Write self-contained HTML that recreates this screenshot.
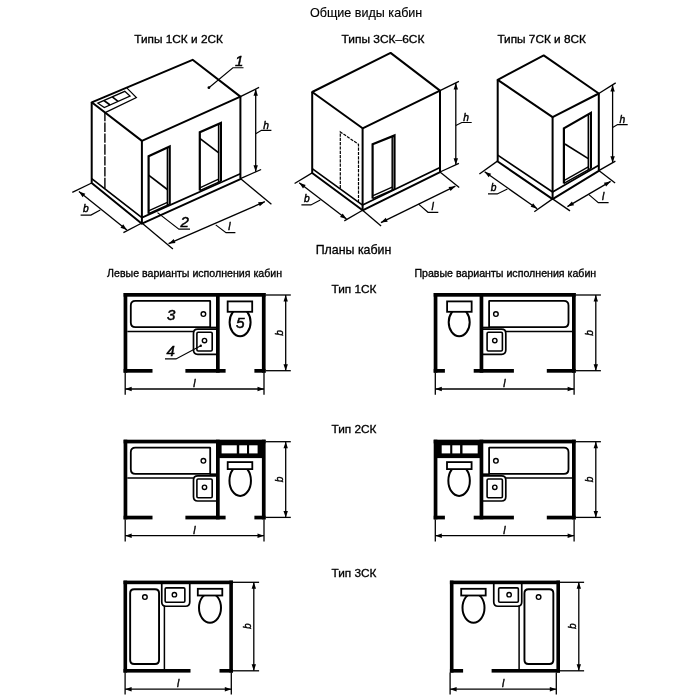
<!DOCTYPE html>
<html lang="ru">
<head>
<meta charset="utf-8">
<title>Общие виды и планы кабин</title>
<style>
html,body{margin:0;padding:0;background:#fff;}
body{width:700px;height:700px;overflow:hidden;}
svg{display:block;filter:blur(0.4px);font-family:"Liberation Sans",sans-serif;}
svg *{stroke:#000;fill:none;}
svg text{stroke:#000;stroke-width:0.32px;fill:#000;}
svg text.i{stroke-width:0.45px;}
svg .f{fill:#000;stroke:none;}
svg .w{fill:#fff;stroke:none;}
svg .wf{fill:#fff;stroke:#000;}
</style>
</head>
<body>
<svg width="700" height="700" viewBox="0 0 700 700">
<rect class="w" x="0" y="0" width="700" height="700"/>
<text x="310.00" y="16.60" font-size="12.6" text-anchor="start" textLength="112.3" lengthAdjust="spacingAndGlyphs" style="stroke-width:0.15px">Общие виды кабин</text>
<text x="134.30" y="42.70" font-size="11.5" text-anchor="start" textLength="88.6" lengthAdjust="spacingAndGlyphs" >Типы 1СК и 2СК</text>
<text x="341.60" y="42.70" font-size="11.5" text-anchor="start" textLength="82.8" lengthAdjust="spacingAndGlyphs" >Типы 3СК–6СК</text>
<text x="497.40" y="42.70" font-size="11.5" text-anchor="start" textLength="88.6" lengthAdjust="spacingAndGlyphs" >Типы 7СК и 8СК</text>
<text x="315.70" y="253.70" font-size="12.4" text-anchor="start" textLength="75.7" lengthAdjust="spacingAndGlyphs" style="stroke-width:0.3px">Планы кабин</text>
<text x="107.10" y="276.50" font-size="10.5" text-anchor="start" textLength="174.9" lengthAdjust="spacingAndGlyphs" >Левые варианты исполнения кабин</text>
<text x="414.40" y="276.50" font-size="10.5" text-anchor="start" textLength="181.8" lengthAdjust="spacingAndGlyphs" >Правые варианты исполнения кабин</text>
<text x="331.50" y="292.80" font-size="11.6" text-anchor="start" textLength="45.0" lengthAdjust="spacingAndGlyphs" >Тип 1СК</text>
<text x="331.50" y="433.10" font-size="11.6" text-anchor="start" textLength="45.0" lengthAdjust="spacingAndGlyphs" >Тип 2СК</text>
<text x="331.50" y="576.80" font-size="11.6" text-anchor="start" textLength="45.0" lengthAdjust="spacingAndGlyphs" >Тип 3СК</text>
<polygon points="91.70,102.30 192.60,59.80 240.40,96.60 141.90,140.90" stroke-width="2.0" stroke-linejoin="round"/>
<polyline points="91.70,102.30 91.70,183.00 141.90,223.70 240.40,179.20 240.40,96.60" stroke-width="2.0" stroke-linejoin="round"/>
<line x1="141.90" y1="140.90" x2="141.90" y2="223.70" stroke-width="2.0" />
<polyline points="91.70,178.60 141.90,217.60 240.40,173.80" stroke-width="1.7" stroke-linejoin="round"/>
<line x1="104.90" y1="112.20" x2="104.90" y2="188.60" stroke-width="1.4" stroke-dasharray="9.0 1.4 9.4 1.4 9.4 1.4 10.6 1.4 9.4 1.4 9.4 1.4 12 0"/>
<polyline points="105.60,112.40 136.40,97.60 127.00,88.20" stroke-width="1.2" />
<polygon points="97.90,103.20 124.80,91.30 130.00,96.10 104.30,107.60" stroke-width="1.3" />
<line x1="103.95" y1="100.52" x2="110.08" y2="105.01" stroke-width="1.6" />
<line x1="112.29" y1="96.83" x2="118.05" y2="101.45" stroke-width="1.6" />
<polyline points="148.60,213.70 148.60,156.30 169.70,146.50 169.70,204.30" stroke-width="2.2" stroke-linejoin="miter"/>
<line x1="167.40" y1="147.87" x2="167.40" y2="205.32" stroke-width="1.5" />
<line x1="148.60" y1="213.70" x2="169.70" y2="204.30" stroke-width="1.5" />
<line x1="149.10" y1="210.70" x2="167.40" y2="202.32" stroke-width="1.3" />
<line x1="148.60" y1="175.10" x2="167.70" y2="189.70" stroke-width="1.7" />
<polyline points="199.80,190.60 199.80,132.30 220.90,122.90 220.90,181.10" stroke-width="2.2" stroke-linejoin="miter"/>
<line x1="218.60" y1="124.22" x2="218.60" y2="182.14" stroke-width="1.5" />
<line x1="199.80" y1="190.60" x2="220.90" y2="181.10" stroke-width="1.5" />
<line x1="200.30" y1="187.60" x2="218.60" y2="179.14" stroke-width="1.3" />
<line x1="199.80" y1="138.30" x2="218.80" y2="152.90" stroke-width="1.7" />
<line x1="240.40" y1="96.60" x2="259.10" y2="87.40" stroke-width="1.3" />
<line x1="240.40" y1="178.60" x2="261.10" y2="169.50" stroke-width="1.3" />
<line x1="255.70" y1="89.20" x2="255.70" y2="171.80" stroke-width="1.3" />
<polygon class="f" points="255.70,89.20 257.90,95.70 253.50,95.70"/>
<polygon class="f" points="255.70,171.80 253.50,165.30 257.90,165.30"/>
<polyline points="255.70,133.70 261.50,130.30 271.40,130.30" stroke-width="1.15" />
<text x="263.30" y="128.50" font-size="10.2" text-anchor="start" font-style="italic" class="i" >h</text>
<circle class="f" cx="208.9" cy="87.7" r="1.4"/>
<polyline points="208.90,87.70 232.90,67.70 243.50,67.70" stroke-width="1.15" />
<text x="235.00" y="65.80" font-size="15" text-anchor="start" font-style="italic" class="i" style="stroke-width:0.5px">1</text>
<polyline points="157.50,212.60 178.90,229.10 190.00,229.10" stroke-width="1.15" />
<text x="180.60" y="227.40" font-size="15" text-anchor="start" font-style="italic" class="i" style="stroke-width:0.5px">2</text>
<line x1="141.90" y1="223.00" x2="172.90" y2="248.90" stroke-width="1.3" />
<line x1="240.40" y1="178.60" x2="271.40" y2="204.30" stroke-width="1.3" />
<line x1="168.60" y1="243.70" x2="264.90" y2="201.70" stroke-width="1.3" />
<polygon class="f" points="168.60,243.70 173.68,239.08 175.44,243.12"/>
<polygon class="f" points="264.90,201.70 259.82,206.32 258.06,202.28"/>
<polyline points="215.70,224.90 226.00,232.60 235.40,232.60" stroke-width="1.15" />
<text x="228.20" y="230.00" font-size="10.2" text-anchor="start" font-style="italic" class="i" >l</text>
<line x1="91.70" y1="183.00" x2="72.30" y2="192.30" stroke-width="1.3" />
<line x1="141.90" y1="223.00" x2="123.40" y2="232.60" stroke-width="1.3" />
<line x1="78.90" y1="191.40" x2="126.90" y2="230.00" stroke-width="1.3" />
<polygon class="f" points="78.90,191.40 85.34,193.76 82.59,197.19"/>
<polygon class="f" points="126.90,230.00 120.46,227.64 123.21,224.21"/>
<polyline points="100.30,209.90 90.90,215.10 80.60,215.10" stroke-width="1.15" />
<text x="83.10" y="212.10" font-size="10.2" text-anchor="start" font-style="italic" class="i" >b</text>
<polygon points="312.20,92.00 390.60,52.90 440.00,90.60 362.60,128.30" stroke-width="2.0" stroke-linejoin="round"/>
<polyline points="312.20,92.00 312.20,173.00 362.60,210.30 440.00,172.20 440.00,90.60" stroke-width="2.0" stroke-linejoin="round"/>
<line x1="362.60" y1="128.30" x2="362.60" y2="210.30" stroke-width="2.0" />
<polyline points="312.20,168.60 362.60,205.10 440.00,167.40" stroke-width="1.7" stroke-linejoin="round"/>
<polyline points="340.30,188.30 340.30,131.90 358.50,144.30 358.50,202.00" stroke-width="1.2" stroke-dasharray="3.2 1.1"/>
<polyline points="372.60,198.60 372.60,144.30 394.50,135.40 394.50,189.10" stroke-width="2.2" stroke-linejoin="miter"/>
<line x1="392.20" y1="136.63" x2="392.20" y2="190.10" stroke-width="1.5" />
<line x1="372.60" y1="198.60" x2="394.50" y2="189.10" stroke-width="1.5" />
<line x1="373.10" y1="195.60" x2="392.20" y2="187.10" stroke-width="1.3" />
<line x1="440.00" y1="90.60" x2="458.90" y2="81.40" stroke-width="1.3" />
<line x1="440.00" y1="172.00" x2="458.90" y2="163.40" stroke-width="1.3" />
<line x1="455.80" y1="83.00" x2="455.80" y2="164.80" stroke-width="1.3" />
<polygon class="f" points="455.80,83.00 458.00,89.50 453.60,89.50"/>
<polygon class="f" points="455.80,164.80 453.60,158.30 458.00,158.30"/>
<polyline points="455.80,125.40 461.80,122.50 471.70,122.50" stroke-width="1.15" />
<text x="463.30" y="121.00" font-size="10.2" text-anchor="start" font-style="italic" class="i" >h</text>
<line x1="362.60" y1="210.20" x2="381.10" y2="226.00" stroke-width="1.3" />
<line x1="440.00" y1="172.00" x2="459.20" y2="187.40" stroke-width="1.3" />
<line x1="380.90" y1="222.60" x2="455.40" y2="186.20" stroke-width="1.3" />
<polygon class="f" points="380.90,222.60 385.77,217.77 387.71,221.72"/>
<polygon class="f" points="455.40,186.20 450.53,191.03 448.59,187.08"/>
<polyline points="418.60,204.10 428.00,212.30 438.30,212.30" stroke-width="1.15" />
<text x="431.60" y="210.00" font-size="10.2" text-anchor="start" font-style="italic" class="i" >l</text>
<line x1="312.20" y1="172.90" x2="294.60" y2="183.50" stroke-width="1.3" />
<line x1="362.60" y1="210.20" x2="344.30" y2="220.90" stroke-width="1.3" />
<line x1="299.20" y1="182.80" x2="346.50" y2="219.10" stroke-width="1.3" />
<polygon class="f" points="299.20,182.80 305.70,185.01 303.02,188.50"/>
<polygon class="f" points="346.50,219.10 340.00,216.89 342.68,213.40"/>
<polyline points="320.30,199.90 310.90,204.90 301.40,204.90" stroke-width="1.15" />
<text x="303.90" y="202.30" font-size="10.2" text-anchor="start" font-style="italic" class="i" >b</text>
<polygon points="497.70,79.80 543.70,55.40 598.80,93.50 552.60,117.10" stroke-width="2.0" stroke-linejoin="round"/>
<polyline points="497.70,79.80 497.70,161.50 552.60,199.10 598.80,170.80 598.80,93.50" stroke-width="2.0" stroke-linejoin="round"/>
<line x1="552.60" y1="117.10" x2="552.60" y2="199.10" stroke-width="2.0" />
<polyline points="497.70,155.10 552.60,192.00 598.80,165.30" stroke-width="1.7" stroke-linejoin="round"/>
<polyline points="563.90,183.40 563.90,128.30 590.90,112.90 590.90,168.40" stroke-width="2.2" stroke-linejoin="miter"/>
<line x1="588.30" y1="114.68" x2="588.30" y2="169.84" stroke-width="1.5" />
<line x1="563.90" y1="183.40" x2="590.90" y2="168.40" stroke-width="1.5" />
<line x1="564.40" y1="180.40" x2="588.30" y2="166.84" stroke-width="1.3" />
<line x1="564.90" y1="144.00" x2="588.30" y2="158.60" stroke-width="1.7" />
<line x1="598.80" y1="93.50" x2="615.70" y2="82.90" stroke-width="1.3" />
<line x1="598.80" y1="170.60" x2="615.40" y2="161.10" stroke-width="1.3" />
<line x1="612.60" y1="84.90" x2="612.60" y2="162.70" stroke-width="1.3" />
<polygon class="f" points="612.60,84.90 614.80,91.40 610.40,91.40"/>
<polygon class="f" points="612.60,162.70 610.40,156.20 614.80,156.20"/>
<polyline points="612.60,127.40 617.60,124.60 627.70,124.60" stroke-width="1.15" />
<text x="619.40" y="122.60" font-size="10.2" text-anchor="start" font-style="italic" class="i" >h</text>
<line x1="552.60" y1="198.90" x2="570.00" y2="210.90" stroke-width="1.3" />
<line x1="598.80" y1="170.60" x2="615.10" y2="183.10" stroke-width="1.3" />
<line x1="567.40" y1="206.60" x2="610.60" y2="181.40" stroke-width="1.3" />
<polygon class="f" points="567.40,206.60 571.91,201.42 574.12,205.23"/>
<polygon class="f" points="610.60,181.40 606.09,186.58 603.88,182.77"/>
<polyline points="588.90,194.60 598.30,202.60 608.60,202.60" stroke-width="1.15" />
<text x="601.90" y="200.30" font-size="10.2" text-anchor="start" font-style="italic" class="i" >l</text>
<line x1="497.40" y1="161.10" x2="479.40" y2="174.00" stroke-width="1.3" />
<line x1="552.60" y1="198.90" x2="534.30" y2="211.70" stroke-width="1.3" />
<line x1="484.60" y1="171.80" x2="537.20" y2="208.80" stroke-width="1.3" />
<polygon class="f" points="484.60,171.80 491.18,173.74 488.65,177.34"/>
<polygon class="f" points="537.20,208.80 530.62,206.86 533.15,203.26"/>
<polyline points="507.40,188.90 497.20,193.90 488.00,193.90" stroke-width="1.15" />
<text x="490.70" y="190.60" font-size="10.2" text-anchor="start" font-style="italic" class="i" >b</text>
<path d="M135.40,300.90 L209.80,300.90 Q210.20,300.90 210.20,301.30 L210.20,326.80 Q210.20,327.20 209.80,327.20 L135.40,327.20 Q130.80,327.20 130.80,322.60 L130.80,305.50 Q130.80,300.90 135.40,300.90 Z" stroke-width="1.8"/>
<line x1="127.30" y1="331.40" x2="193.60" y2="331.40" stroke-width="1.5" />
<circle cx="203.40" cy="314.10" r="2.3" stroke-width="1.4"/>
<line x1="209.60" y1="327.50" x2="216.60" y2="327.50" stroke-width="1.7" />
<path d="M197.70,329.20 L217.80,329.20 Q217.90,329.20 217.90,329.30 L217.90,354.20 Q217.90,354.30 217.80,354.30 L197.70,354.30 Q193.50,354.30 193.50,350.10 L193.50,333.40 Q193.50,329.20 197.70,329.20 Z" stroke-width="1.7"/>
<path d="M198.10,332.30 L211.00,332.30 Q212.20,332.30 212.20,333.50 L212.20,349.80 Q212.20,351.00 211.00,351.00 L198.10,351.00 Q196.90,351.00 196.90,349.80 L196.90,333.50 Q196.90,332.30 198.10,332.30 Z" stroke-width="1.6"/>
<circle cx="204.50" cy="340.60" r="2.2" stroke-width="1.4"/>
<rect class="f" x="123.60" y="293.00" width="142.00" height="3.70"/>
<rect class="f" x="123.60" y="293.00" width="3.70" height="79.70"/>
<rect class="f" x="261.90" y="293.00" width="3.70" height="79.70"/>
<rect class="f" x="216.00" y="293.00" width="3.70" height="79.70"/>
<rect class="f" x="123.60" y="369.00" width="28.90" height="3.70"/>
<rect class="f" x="185.40" y="369.00" width="40.20" height="3.70"/>
<rect class="f" x="254.40" y="369.00" width="11.20" height="3.70"/>
<ellipse class="wf" cx="240.10" cy="322.20" rx="10.5" ry="14.0" stroke-width="2.0"/>
<rect class="wf" x="227.65" y="301.40" width="24.55" height="10.4" stroke-width="1.8"/>
<line x1="265.60" y1="295.00" x2="290.80" y2="295.00" stroke-width="1.3" />
<line x1="265.60" y1="370.70" x2="290.80" y2="370.70" stroke-width="1.3" />
<line x1="285.70" y1="295.00" x2="285.70" y2="370.70" stroke-width="1.3" />
<polygon class="f" points="285.70,295.00 287.90,301.50 283.50,301.50"/>
<polygon class="f" points="285.70,370.70 283.50,364.20 287.90,364.20"/>
<text transform="translate(283.00,332.80) rotate(-90)" text-anchor="middle" font-size="10.2" font-style="italic" class="i">b</text>
<line x1="125.20" y1="372.70" x2="125.20" y2="394.70" stroke-width="1.3" />
<line x1="264.00" y1="372.70" x2="264.00" y2="394.70" stroke-width="1.3" />
<line x1="125.20" y1="389.00" x2="264.00" y2="389.00" stroke-width="1.3" />
<polygon class="f" points="125.20,389.00 131.70,386.80 131.70,391.20"/>
<polygon class="f" points="264.00,389.00 257.50,391.20 257.50,386.80"/>
<text x="194.30" y="387.00" font-size="10.2" text-anchor="middle" font-style="italic" class="i" >l</text>
<text x="167.00" y="319.50" font-size="15" text-anchor="start" font-style="italic" class="i" style="stroke-width:0.5px">3</text>
<text x="166.40" y="356.40" font-size="15" text-anchor="start" font-style="italic" class="i" style="stroke-width:0.5px">4</text>
<polyline points="165.00,358.90 176.00,358.90 200.80,345.80" stroke-width="1.15" />
<circle class="f" cx="200.8" cy="345.8" r="1.2"/>
<text x="236.10" y="328.00" font-size="15.5" text-anchor="start" font-style="italic" class="i" style="stroke-width:0.5px">5</text>
<path d="M563.90,300.90 L489.50,300.90 Q489.10,300.90 489.10,301.30 L489.10,326.80 Q489.10,327.20 489.50,327.20 L563.90,327.20 Q568.50,327.20 568.50,322.60 L568.50,305.50 Q568.50,300.90 563.90,300.90 Z" stroke-width="1.8"/>
<line x1="572.00" y1="331.40" x2="505.70" y2="331.40" stroke-width="1.5" />
<circle cx="495.90" cy="314.10" r="2.3" stroke-width="1.4"/>
<line x1="489.70" y1="327.50" x2="482.70" y2="327.50" stroke-width="1.7" />
<path d="M501.60,329.20 L481.50,329.20 Q481.40,329.20 481.40,329.30 L481.40,354.20 Q481.40,354.30 481.50,354.30 L501.60,354.30 Q505.80,354.30 505.80,350.10 L505.80,333.40 Q505.80,329.20 501.60,329.20 Z" stroke-width="1.7"/>
<path d="M501.20,332.30 L488.30,332.30 Q487.10,332.30 487.10,333.50 L487.10,349.80 Q487.10,351.00 488.30,351.00 L501.20,351.00 Q502.40,351.00 502.40,349.80 L502.40,333.50 Q502.40,332.30 501.20,332.30 Z" stroke-width="1.6"/>
<circle cx="494.80" cy="340.60" r="2.2" stroke-width="1.4"/>
<rect class="f" x="433.70" y="293.00" width="142.00" height="3.70"/>
<rect class="f" x="572.00" y="293.00" width="3.70" height="79.70"/>
<rect class="f" x="433.70" y="293.00" width="3.70" height="79.70"/>
<rect class="f" x="479.60" y="293.00" width="3.70" height="79.70"/>
<rect class="f" x="546.80" y="369.00" width="28.90" height="3.70"/>
<rect class="f" x="473.70" y="369.00" width="40.20" height="3.70"/>
<rect class="f" x="433.70" y="369.00" width="11.20" height="3.70"/>
<ellipse class="wf" cx="459.20" cy="322.20" rx="10.5" ry="14.0" stroke-width="2.0"/>
<rect class="wf" x="447.10" y="301.40" width="24.55" height="10.4" stroke-width="1.8"/>
<line x1="575.70" y1="295.00" x2="600.90" y2="295.00" stroke-width="1.3" />
<line x1="575.70" y1="370.70" x2="600.90" y2="370.70" stroke-width="1.3" />
<line x1="595.80" y1="295.00" x2="595.80" y2="370.70" stroke-width="1.3" />
<polygon class="f" points="595.80,295.00 598.00,301.50 593.60,301.50"/>
<polygon class="f" points="595.80,370.70 593.60,364.20 598.00,364.20"/>
<text transform="translate(593.10,332.80) rotate(-90)" text-anchor="middle" font-size="10.2" font-style="italic" class="i">b</text>
<line x1="435.30" y1="372.70" x2="435.30" y2="394.70" stroke-width="1.3" />
<line x1="574.10" y1="372.70" x2="574.10" y2="394.70" stroke-width="1.3" />
<line x1="435.30" y1="389.00" x2="574.10" y2="389.00" stroke-width="1.3" />
<polygon class="f" points="435.30,389.00 441.80,386.80 441.80,391.20"/>
<polygon class="f" points="574.10,389.00 567.60,391.20 567.60,386.80"/>
<text x="504.40" y="387.00" font-size="10.2" text-anchor="middle" font-style="italic" class="i" >l</text>
<path d="M135.40,447.60 L209.80,447.60 Q210.20,447.60 210.20,448.00 L210.20,473.50 Q210.20,473.90 209.80,473.90 L135.40,473.90 Q130.80,473.90 130.80,469.30 L130.80,452.20 Q130.80,447.60 135.40,447.60 Z" stroke-width="1.8"/>
<line x1="127.30" y1="478.10" x2="193.60" y2="478.10" stroke-width="1.5" />
<circle cx="203.40" cy="460.80" r="2.3" stroke-width="1.4"/>
<line x1="209.60" y1="474.20" x2="216.60" y2="474.20" stroke-width="1.7" />
<path d="M197.70,475.90 L217.80,475.90 Q217.90,475.90 217.90,476.00 L217.90,500.90 Q217.90,501.00 217.80,501.00 L197.70,501.00 Q193.50,501.00 193.50,496.80 L193.50,480.10 Q193.50,475.90 197.70,475.90 Z" stroke-width="1.7"/>
<path d="M198.10,479.00 L211.00,479.00 Q212.20,479.00 212.20,480.20 L212.20,496.50 Q212.20,497.70 211.00,497.70 L198.10,497.70 Q196.90,497.70 196.90,496.50 L196.90,480.20 Q196.90,479.00 198.10,479.00 Z" stroke-width="1.6"/>
<circle cx="204.50" cy="487.30" r="2.2" stroke-width="1.4"/>
<rect class="f" x="123.60" y="439.70" width="142.00" height="3.70"/>
<rect class="f" x="123.60" y="439.70" width="3.70" height="79.70"/>
<rect class="f" x="261.90" y="439.70" width="3.70" height="79.70"/>
<rect class="f" x="216.00" y="439.70" width="3.70" height="79.70"/>
<rect class="f" x="123.60" y="515.70" width="28.90" height="3.70"/>
<rect class="f" x="185.40" y="515.70" width="40.20" height="3.70"/>
<rect class="f" x="254.40" y="515.70" width="11.20" height="3.70"/>
<rect class="f" x="217.00" y="440.70" width="47.60" height="17.40"/>
<rect class="w" x="221.60" y="445.30" width="15.20" height="8.10"/>
<rect class="w" x="239.20" y="445.30" width="7.80" height="8.10"/>
<rect class="w" x="249.10" y="445.30" width="8.50" height="8.10"/>
<ellipse class="wf" cx="240.20" cy="480.70" rx="10.75" ry="15.2" stroke-width="2.0"/>
<rect class="wf" x="227.70" y="462.10" width="24.60" height="7.0" stroke-width="1.8"/>
<line x1="265.60" y1="441.70" x2="290.80" y2="441.70" stroke-width="1.3" />
<line x1="265.60" y1="517.40" x2="290.80" y2="517.40" stroke-width="1.3" />
<line x1="285.70" y1="441.70" x2="285.70" y2="517.40" stroke-width="1.3" />
<polygon class="f" points="285.70,441.70 287.90,448.20 283.50,448.20"/>
<polygon class="f" points="285.70,517.40 283.50,510.90 287.90,510.90"/>
<text transform="translate(283.00,479.50) rotate(-90)" text-anchor="middle" font-size="10.2" font-style="italic" class="i">b</text>
<line x1="125.20" y1="519.40" x2="125.20" y2="541.40" stroke-width="1.3" />
<line x1="264.00" y1="519.40" x2="264.00" y2="541.40" stroke-width="1.3" />
<line x1="125.20" y1="535.70" x2="264.00" y2="535.70" stroke-width="1.3" />
<polygon class="f" points="125.20,535.70 131.70,533.50 131.70,537.90"/>
<polygon class="f" points="264.00,535.70 257.50,537.90 257.50,533.50"/>
<text x="194.30" y="533.70" font-size="10.2" text-anchor="middle" font-style="italic" class="i" >l</text>
<path d="M563.90,447.60 L489.50,447.60 Q489.10,447.60 489.10,448.00 L489.10,473.50 Q489.10,473.90 489.50,473.90 L563.90,473.90 Q568.50,473.90 568.50,469.30 L568.50,452.20 Q568.50,447.60 563.90,447.60 Z" stroke-width="1.8"/>
<line x1="572.00" y1="478.10" x2="505.70" y2="478.10" stroke-width="1.5" />
<circle cx="495.90" cy="460.80" r="2.3" stroke-width="1.4"/>
<line x1="489.70" y1="474.20" x2="482.70" y2="474.20" stroke-width="1.7" />
<path d="M501.60,475.90 L481.50,475.90 Q481.40,475.90 481.40,476.00 L481.40,500.90 Q481.40,501.00 481.50,501.00 L501.60,501.00 Q505.80,501.00 505.80,496.80 L505.80,480.10 Q505.80,475.90 501.60,475.90 Z" stroke-width="1.7"/>
<path d="M501.20,479.00 L488.30,479.00 Q487.10,479.00 487.10,480.20 L487.10,496.50 Q487.10,497.70 488.30,497.70 L501.20,497.70 Q502.40,497.70 502.40,496.50 L502.40,480.20 Q502.40,479.00 501.20,479.00 Z" stroke-width="1.6"/>
<circle cx="494.80" cy="487.30" r="2.2" stroke-width="1.4"/>
<rect class="f" x="433.70" y="439.70" width="142.00" height="3.70"/>
<rect class="f" x="572.00" y="439.70" width="3.70" height="79.70"/>
<rect class="f" x="433.70" y="439.70" width="3.70" height="79.70"/>
<rect class="f" x="479.60" y="439.70" width="3.70" height="79.70"/>
<rect class="f" x="546.80" y="515.70" width="28.90" height="3.70"/>
<rect class="f" x="473.70" y="515.70" width="40.20" height="3.70"/>
<rect class="f" x="433.70" y="515.70" width="11.20" height="3.70"/>
<rect class="f" x="434.70" y="440.70" width="47.60" height="17.40"/>
<rect class="w" x="462.50" y="445.30" width="15.20" height="8.10"/>
<rect class="w" x="452.30" y="445.30" width="7.80" height="8.10"/>
<rect class="w" x="441.70" y="445.30" width="8.50" height="8.10"/>
<ellipse class="wf" cx="459.10" cy="480.70" rx="10.75" ry="15.2" stroke-width="2.0"/>
<rect class="wf" x="447.00" y="462.10" width="24.60" height="7.0" stroke-width="1.8"/>
<line x1="575.70" y1="441.70" x2="600.90" y2="441.70" stroke-width="1.3" />
<line x1="575.70" y1="517.40" x2="600.90" y2="517.40" stroke-width="1.3" />
<line x1="595.80" y1="441.70" x2="595.80" y2="517.40" stroke-width="1.3" />
<polygon class="f" points="595.80,441.70 598.00,448.20 593.60,448.20"/>
<polygon class="f" points="595.80,517.40 593.60,510.90 598.00,510.90"/>
<text transform="translate(593.10,479.50) rotate(-90)" text-anchor="middle" font-size="10.2" font-style="italic" class="i">b</text>
<line x1="435.30" y1="519.40" x2="435.30" y2="541.40" stroke-width="1.3" />
<line x1="574.10" y1="519.40" x2="574.10" y2="541.40" stroke-width="1.3" />
<line x1="435.30" y1="535.70" x2="574.10" y2="535.70" stroke-width="1.3" />
<polygon class="f" points="435.30,535.70 441.80,533.50 441.80,537.90"/>
<polygon class="f" points="574.10,535.70 567.60,537.90 567.60,533.50"/>
<text x="504.40" y="533.70" font-size="10.2" text-anchor="middle" font-style="italic" class="i" >l</text>
<path d="M134.15,589.25 L155.05,589.25 Q159.05,589.25 159.05,593.25 L159.05,660.05 Q159.05,664.05 155.05,664.05 L134.15,664.05 Q130.15,664.05 130.15,660.05 L130.15,593.25 Q130.15,589.25 134.15,589.25 Z" stroke-width="1.9"/>
<line x1="164.40" y1="605.60" x2="164.40" y2="669.00" stroke-width="1.5" />
<circle cx="144.90" cy="597.10" r="2.3" stroke-width="1.4"/>
<path d="M161.75,583.20 L161.75,602.05 Q161.75,606.25 165.95,606.25 L185.55,606.25 Q189.75,606.25 189.75,602.05 L189.75,583.20" stroke-width="1.7"/>
<path d="M166.35,587.85 L183.65,587.85 Q184.85,587.85 184.85,589.05 L184.85,601.05 Q184.85,602.25 183.65,602.25 L166.35,602.25 Q165.15,602.25 165.15,601.05 L165.15,589.05 Q165.15,587.85 166.35,587.85 Z" stroke-width="1.6"/>
<circle cx="174.40" cy="594.70" r="2.2" stroke-width="1.4"/>
<rect class="f" x="123.50" y="580.60" width="109.40" height="3.60"/>
<rect class="f" x="123.50" y="580.60" width="3.60" height="92.00"/>
<rect class="f" x="229.30" y="580.60" width="3.60" height="92.00"/>
<rect class="f" x="123.50" y="669.00" width="67.00" height="3.60"/>
<rect class="f" x="219.50" y="669.00" width="13.40" height="3.60"/>
<ellipse class="wf" cx="210.00" cy="607.80" rx="11.0" ry="14.9" stroke-width="2.0"/>
<rect class="wf" x="197.80" y="588.80" width="24.50" height="6.7" stroke-width="1.8"/>
<line x1="232.90" y1="582.30" x2="259.10" y2="582.30" stroke-width="1.3" />
<line x1="232.90" y1="670.80" x2="259.10" y2="670.80" stroke-width="1.3" />
<line x1="253.80" y1="582.30" x2="253.80" y2="670.80" stroke-width="1.3" />
<polygon class="f" points="253.80,582.30 256.00,588.80 251.60,588.80"/>
<polygon class="f" points="253.80,670.80 251.60,664.30 256.00,664.30"/>
<text transform="translate(250.90,626.20) rotate(-90)" text-anchor="middle" font-size="10.2" font-style="italic" class="i">b</text>
<line x1="125.10" y1="672.60" x2="125.10" y2="694.60" stroke-width="1.3" />
<line x1="231.30" y1="672.60" x2="231.30" y2="694.60" stroke-width="1.3" />
<line x1="125.10" y1="689.20" x2="231.30" y2="689.20" stroke-width="1.3" />
<polygon class="f" points="125.10,689.20 131.60,687.00 131.60,691.40"/>
<polygon class="f" points="231.30,689.20 224.80,691.40 224.80,687.00"/>
<text x="178.20" y="687.20" font-size="10.2" text-anchor="middle" font-style="italic" class="i" >l</text>
<path d="M549.35,589.25 L528.45,589.25 Q524.45,589.25 524.45,593.25 L524.45,660.05 Q524.45,664.05 528.45,664.05 L549.35,664.05 Q553.35,664.05 553.35,660.05 L553.35,593.25 Q553.35,589.25 549.35,589.25 Z" stroke-width="1.9"/>
<line x1="519.10" y1="605.60" x2="519.10" y2="669.00" stroke-width="1.5" />
<circle cx="538.60" cy="597.10" r="2.3" stroke-width="1.4"/>
<path d="M521.75,583.20 L521.75,602.05 Q521.75,606.25 517.55,606.25 L497.95,606.25 Q493.75,606.25 493.75,602.05 L493.75,583.20" stroke-width="1.7"/>
<path d="M517.15,587.85 L499.85,587.85 Q498.65,587.85 498.65,589.05 L498.65,601.05 Q498.65,602.25 499.85,602.25 L517.15,602.25 Q518.35,602.25 518.35,601.05 L518.35,589.05 Q518.35,587.85 517.15,587.85 Z" stroke-width="1.6"/>
<circle cx="509.10" cy="594.70" r="2.2" stroke-width="1.4"/>
<rect class="f" x="449.90" y="580.60" width="110.10" height="3.60"/>
<rect class="f" x="556.40" y="580.60" width="3.60" height="92.00"/>
<rect class="f" x="449.90" y="580.60" width="3.60" height="92.00"/>
<rect class="f" x="491.60" y="669.00" width="68.40" height="3.60"/>
<rect class="f" x="449.90" y="669.00" width="13.20" height="3.60"/>
<ellipse class="wf" cx="473.50" cy="607.80" rx="11.0" ry="14.9" stroke-width="2.0"/>
<rect class="wf" x="461.20" y="588.80" width="24.50" height="6.7" stroke-width="1.8"/>
<line x1="560.00" y1="582.30" x2="584.10" y2="582.30" stroke-width="1.3" />
<line x1="560.00" y1="670.80" x2="584.10" y2="670.80" stroke-width="1.3" />
<line x1="578.80" y1="582.30" x2="578.80" y2="670.80" stroke-width="1.3" />
<polygon class="f" points="578.80,582.30 581.00,588.80 576.60,588.80"/>
<polygon class="f" points="578.80,670.80 576.60,664.30 581.00,664.30"/>
<text transform="translate(575.90,626.20) rotate(-90)" text-anchor="middle" font-size="10.2" font-style="italic" class="i">b</text>
<line x1="450.10" y1="672.60" x2="450.10" y2="694.60" stroke-width="1.3" />
<line x1="556.30" y1="672.60" x2="556.30" y2="694.60" stroke-width="1.3" />
<line x1="450.10" y1="689.20" x2="556.30" y2="689.20" stroke-width="1.3" />
<polygon class="f" points="450.10,689.20 456.60,687.00 456.60,691.40"/>
<polygon class="f" points="556.30,689.20 549.80,691.40 549.80,687.00"/>
<text x="503.20" y="687.20" font-size="10.2" text-anchor="middle" font-style="italic" class="i" >l</text>
</svg>
</body>
</html>
